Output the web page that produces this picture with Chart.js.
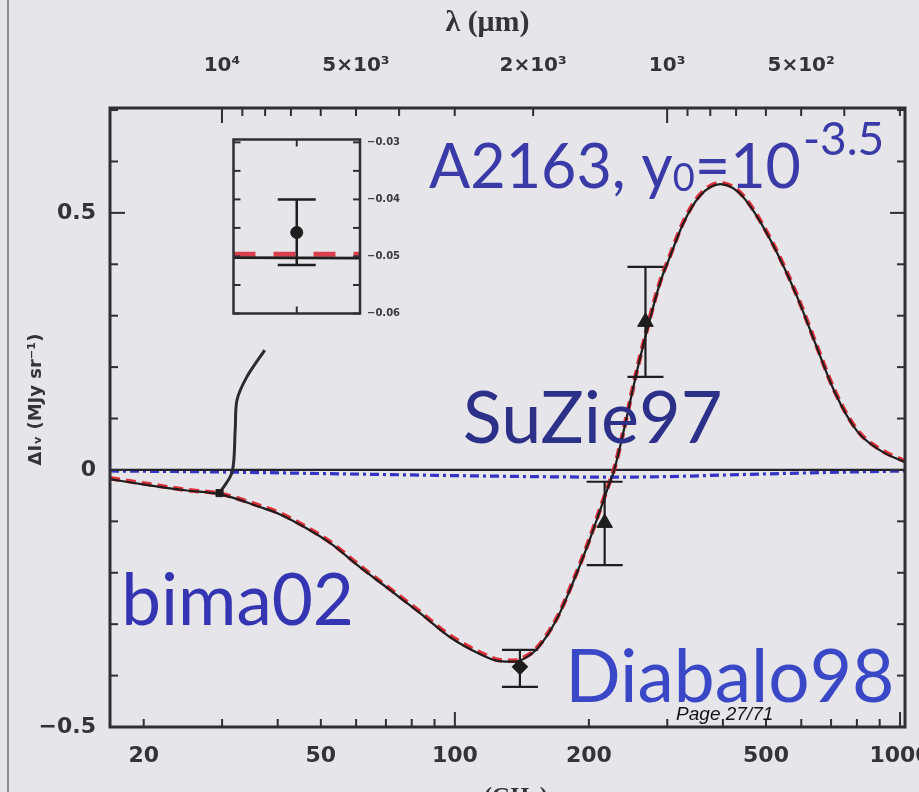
<!DOCTYPE html>
<html><head><meta charset="utf-8">
<script src="https://cdn.jsdelivr.net/npm/chart.js@4/dist/chart.umd.min.js"></script>
<style>
html,body{margin:0;padding:0;width:919px;height:792px;overflow:hidden;background:#e5e5ea;}
#main{position:absolute;left:0;top:0;}
#inset{position:absolute;left:212px;top:118px;}
#edge{position:absolute;left:7px;top:0;width:2px;height:792px;background:#8a8a90;}
</style></head><body>
<div id="edge"></div>
<canvas id="main" width="960" height="815"></canvas>
<canvas id="inset" width="203" height="217"></canvas>
<script>
// ---------- data ----------
const modelFreq    = [16.8, 20.6, 25, 29.6, 36.5, 40.4, 45, 52.4, 61.2, 71.4, 83.4, 97.4, 113.8, 126, 136, 145, 153, 169, 184, 198, 212, 221, 228, 260, 289, 304, 326, 355, 395, 430, 460, 521, 587, 650, 711, 800, 906, 1026];
const modelDeltaI  = [-0.018, -0.030, -0.040, -0.047, -0.072, -0.086, -0.107, -0.142, -0.189, -0.233, -0.278, -0.325, -0.358, -0.372, -0.373, -0.364, -0.348, -0.292, -0.220, -0.150, -0.078, -0.033, 0.0, 0.214, 0.364, 0.414, 0.480, 0.533, 0.556, 0.543, 0.514, 0.434, 0.337, 0.239, 0.154, 0.076, 0.037, 0.015];
const redModelDeltaI = [-0.016, -0.028, -0.039, -0.046, -0.070, -0.084, -0.105, -0.140, -0.187, -0.231, -0.276, -0.322, -0.355, -0.370, -0.371, -0.362, -0.346, -0.290, -0.218, -0.148, -0.076, -0.031, 0.002, 0.216, 0.366, 0.416, 0.482, 0.535, 0.558, 0.545, 0.516, 0.436, 0.339, 0.241, 0.156, 0.078, 0.039, 0.017];
const kineticFreq   = [16.8, 30, 50, 100, 150, 220, 300, 400, 600, 1026];
const kineticDeltaI = [-0.002, -0.004, -0.007, -0.011, -0.013, -0.014, -0.013, -0.010, -0.006, -0.002];
const zeroFreq  = [16.8, 1026];
const zeroLevel = [0, 0];

const bimaFreq  = [29.6];
const bimaValue = [-0.045];
const suzieFreq  = [217, 268];
const suzieValue = [-0.103, 0.288];
const suzieLow   = [-0.185, 0.181];
const suzieHigh  = [-0.023, 0.395];
const diabaloFreq  = [140];
const diabaloValue = [-0.383];
const diabaloLow   = [-0.422];
const diabaloHigh  = [-0.350];
const connectorFreq  = [29.6, 31.6, 32.1, 32.4, 34.1, 37.4];
const connectorValue = [-0.045, -0.004, 0.078, 0.136, 0.181, 0.233];

// tick values / labels
const freqTickLabels = [20, 50, 100, 200, 500, 1000];
const freqMinorTicks = [20, 30, 40, 50, 60, 70, 80, 90, 200, 300, 400, 500, 600, 700, 800, 900];
const freqMajorTicks = [100, 1000];
const wavelengthTicks = [10000, 5000, 2000, 1000, 500];
const wavelengthTickLabels = ['10\u2074', '5\u00d710\u00b3', '2\u00d710\u00b3', '10\u00b3', '5\u00d710\u00b2'];
const wavelengthMinorTicks = [9000, 8000, 7000, 6000, 5000, 4000, 3000, 2000, 900, 800, 700, 600, 500, 400, 300];
const wavelengthMajorTicks = [10000, 1000];
const yTickLabels = [-0.5, 0, 0.5];
const yMinorTicks = [-0.4, -0.3, -0.2, -0.1, 0.1, 0.2, 0.3, 0.4, 0.6, 0.7];

// inset data
const insetFreq = [29.0, 30.0];
const insetModel = [-0.0502, -0.0503];
const insetRedModel = [-0.0496, -0.0496];
const insetPointFreq = [29.5];
const insetPointValue = [-0.0458];
const insetLow = [-0.0515];
const insetHigh = [-0.0400];
const insetTickLabels = [-0.03, -0.04, -0.05, -0.06];
const insetMinorTicks = [-0.035, -0.045, -0.055];

// ---------- helpers ----------
const C_UM_GHZ = 299792.458;
const pts = (xs, ys) => xs.map((x, i) => ({x, y: ys[i]}));
const minus = v => (v < 0 ? '\u2212' : '') + Math.abs(v);

function errorBarSets(xs, lo, hi, cap, w) {
  return xs.map((x, i) => ({
    data: [{x, y: lo[i]}, {x, y: hi[i]}],
    borderColor: '#1e1e1e', borderWidth: w,
    pointStyle: 'line', pointRadius: cap, pointBorderWidth: w,
    pointBorderColor: '#1e1e1e', pointBackgroundColor: '#1e1e1e'
  }));
}

const frameTicks = {
  id: 'frameTicks',
  afterDatasetsDraw(chart, args, o) {
    const {ctx, chartArea: a, scales} = chart;
    ctx.save();
    ctx.strokeStyle = o.color; ctx.lineWidth = o.tickWidth;
    const seg = (x1, y1, x2, y2) => { ctx.beginPath(); ctx.moveTo(x1, y1); ctx.lineTo(x2, y2); ctx.stroke(); };
    (o.x || []).forEach(([v, len]) => { const x = scales[o.xScale].getPixelForValue(v); seg(x, a.bottom, x, a.bottom - len); });
    (o.xt || []).forEach(([v, len]) => { const x = scales[o.xScale].getPixelForValue(v); seg(x, a.top, x, a.top + len); });
    (o.y || []).forEach(([v, len]) => { const y = scales[o.yScale].getPixelForValue(v); seg(a.left, y, a.left + len, y); seg(a.right, y, a.right - len, y); });
    ctx.lineWidth = o.frameWidth;
    ctx.strokeRect(a.left, a.top, a.right - a.left, a.bottom - a.top);
    ctx.restore();
  }
};

const labelsPlugin = {
  id: 'slideLabels',
  afterDraw(chart) {
    const {ctx, scales: {x, y}} = chart;
    const put = (txt, nu, v, font, color) => {
      ctx.font = font; ctx.fillStyle = color; ctx.textBaseline = 'alphabetic'; ctx.textAlign = 'left';
      ctx.fillText(txt, x.getPixelForValue(nu), y.getPixelForValue(v));
    };
    ctx.save();
    put('SuZie97', 104.2, 0.0525, '72px Lato', '#2d3088');
    put('bima02', 17.8, -0.302, '71px Lato', '#3535b4');
    put('Diabalo98', 177, -0.451, '73px Lato', '#3a48c8');
    // A2163 title with sub/superscript
    let px = x.getPixelForValue(87.5), py = y.getPixelForValue(0.549);
    ctx.fillStyle = '#3a3aa8'; ctx.textBaseline = 'alphabetic';
    ctx.font = '61px Lato'; ctx.fillText('A2163, y', px, py); px += ctx.measureText('A2163, y').width;
    ctx.font = '38px Lato'; ctx.fillText('0', px, py + 3); px += ctx.measureText('0').width;
    ctx.font = '61px Lato'; ctx.fillText('=10', px, py); px += ctx.measureText('=10').width;
    ctx.font = '46px Lato'; ctx.fillText('-3.5', px + 2, py - 33);
    // page marker
    ctx.font = 'italic 19px "Liberation Sans Narrow", "Liberation Sans", Arial';
    ctx.fillStyle = '#111';
    ctx.fillText('Page 27/71', x.getPixelForValue(314), y.getPixelForValue(-0.487));
    ctx.restore();
  }
};

// ---------- main chart ----------
const tickFont = {family: 'DejaVu Sans', weight: 'bold', size: 22};
const mainDatasets = [
  {data: pts(bimaFreq, bimaValue), showLine: false, pointStyle: 'rect', pointRadius: 5, backgroundColor: '#1e1e1e', borderColor: '#1e1e1e'},
  {data: pts(suzieFreq, suzieValue), showLine: false, pointStyle: 'triangle', pointRadius: 9, backgroundColor: '#1e1e1e', borderColor: '#1e1e1e'},
  {data: pts(diabaloFreq, diabaloValue), showLine: false, pointStyle: 'rectRot', pointRadius: 7, pointBorderWidth: 2, backgroundColor: '#1e1e1e', borderColor: '#1e1e1e'},
  ...errorBarSets(suzieFreq, suzieLow, suzieHigh, 18, 2.2),
  ...errorBarSets(diabaloFreq, diabaloLow, diabaloHigh, 18, 2.2),
  {data: pts(connectorFreq, connectorValue), borderColor: '#2a2a30', borderWidth: 3, pointRadius: 0, tension: 0.3},
  {data: pts(modelFreq, modelDeltaI), borderColor: '#1e1e1e', borderWidth: 2.2, pointRadius: 0, cubicInterpolationMode: 'monotone'},
  {data: pts(modelFreq, redModelDeltaI), borderColor: '#e0303a', borderWidth: 4.5, borderDash: [10, 6], pointRadius: 0, cubicInterpolationMode: 'monotone'},
  {data: pts(zeroFreq, zeroLevel), borderColor: '#222228', borderWidth: 2.2, pointRadius: 0},
  {data: pts(kineticFreq, kineticDeltaI), borderColor: '#3434c8', borderWidth: 3.2, borderDash: [9, 4, 3, 4], pointRadius: 0, cubicInterpolationMode: 'monotone'}
];

new Chart(document.getElementById('main'), {
  type: 'line',
  data: {datasets: mainDatasets},
  options: {
    responsive: false, animation: false, events: [], devicePixelRatio: 1,
    layout: {padding: {left: 0, right: 55, top: 0, bottom: 0}},
    plugins: {
      legend: {display: false}, tooltip: {enabled: false},
      frameTicks: {
        color: '#2e2e34', tickWidth: 2, frameWidth: 3, xScale: 'x', yScale: 'y',
        x: [...freqMinorTicks.map(v => [v, 8]), ...freqMajorTicks.map(v => [v, 15])],
        xt: [...wavelengthMinorTicks.map(l => [C_UM_GHZ / l, 8]), ...wavelengthMajorTicks.map(l => [C_UM_GHZ / l, 15])],
        y: [...yMinorTicks.map(v => [v, 8]), ...yTickLabels.map(v => [v, 15])]
      }
    },
    scales: {
      x: {
        type: 'logarithmic', position: 'bottom', min: 16.8, max: 1026,
        afterBuildTicks: s => { s.ticks = freqTickLabels.map(v => ({value: v})); },
        afterFit: s => { s.height = 88; },
        grid: {display: false, drawTicks: false}, border: {display: false},
        ticks: {autoSkip: false, maxRotation: 0, padding: 16, color: '#333338', font: tickFont, callback: v => String(v)},
        title: {display: true, text: '\u03bd (GHz)', color: '#333338', font: {family: 'Liberation Serif', weight: 'bold', size: 24}, padding: {top: 0, bottom: 4}}
      },
      xTop: {
        type: 'logarithmic', position: 'top', min: 16.8, max: 1026,
        afterBuildTicks: s => { s.ticks = wavelengthTicks.map(l => ({value: C_UM_GHZ / l})); },
        afterFit: s => { s.height = 108; },
        grid: {display: false, drawTicks: false}, border: {display: false},
        ticks: {autoSkip: false, maxRotation: 0, padding: 30, color: '#333338', font: {family: 'DejaVu Sans', weight: 'bold', size: 20}, callback: (v, i) => wavelengthTickLabels[i]},
        title: {display: true, text: '\u03bb (\u03bcm)\u2003\u2004', color: '#333338', font: {family: 'Liberation Serif', weight: 'bold', size: 30}, padding: {top: 5, bottom: 0}}
      },
      y: {
        type: 'linear', position: 'left', min: -0.5, max: 0.704,
        afterBuildTicks: s => { s.ticks = yTickLabels.map(v => ({value: v})); },
        afterFit: s => { s.width = 110; },
        grid: {display: false, drawTicks: false}, border: {display: false},
        ticks: {padding: 14, color: '#333338', font: tickFont, callback: v => v === 0 ? '0' : minus(v.toFixed(1)) },
        title: {display: true, text: '\u2003\u2003\u0394I\u1d65 (MJy sr\u207b\u00b9)', color: '#333338', font: {family: 'DejaVu Sans', weight: 'bold', size: 18}, padding: {top: 26, bottom: 0}}
      }
    }
  },
  plugins: [frameTicks, labelsPlugin]
});

// ---------- inset chart ----------
new Chart(document.getElementById('inset'), {
  type: 'line',
  data: {datasets: [
    {data: pts(insetPointFreq, insetPointValue), showLine: false, pointStyle: 'circle', pointRadius: 6, backgroundColor: '#1e1e1e', borderColor: '#1e1e1e'},
    ...errorBarSets(insetPointFreq, insetLow, insetHigh, 19, 2.5),
    {data: pts(insetFreq, insetModel), borderColor: '#1e1e1e', borderWidth: 2.8, pointRadius: 0},
    {data: pts(insetFreq, insetRedModel), borderColor: '#d8404e', borderWidth: 5, borderDash: [22, 18], pointRadius: 0}
  ]},
  options: {
    responsive: false, animation: false, events: [], devicePixelRatio: 1,
    layout: {padding: {left: 8, right: 0, top: 12, bottom: 15}},
    plugins: {
      legend: {display: false}, tooltip: {enabled: false},
      frameTicks: {
        color: '#2e2e34', tickWidth: 2, frameWidth: 2.5, xScale: 'x', yScale: 'y',
        x: [[29.5, 7]], xt: [[29.5, 7]],
        y: [...insetMinorTicks.map(v => [v, 7]), ...insetTickLabels.map(v => [v, 7])]
      }
    },
    scales: {
      x: {type: 'linear', min: 29.0, max: 30.0, display: false},
      y: {
        type: 'linear', position: 'right', min: -0.06, max: -0.0295,
        afterBuildTicks: s => { s.ticks = insetTickLabels.map(v => ({value: v})); },
        afterFit: s => { s.width = 55; },
        grid: {display: false, drawTicks: false}, border: {display: false},
        ticks: {padding: 7, color: '#3a3a40', font: {family: 'DejaVu Sans', weight: 'bold', size: 10}, callback: v => minus(v.toFixed(2))}
      }
    }
  },
  plugins: [frameTicks]
});
</script>
</body></html>
